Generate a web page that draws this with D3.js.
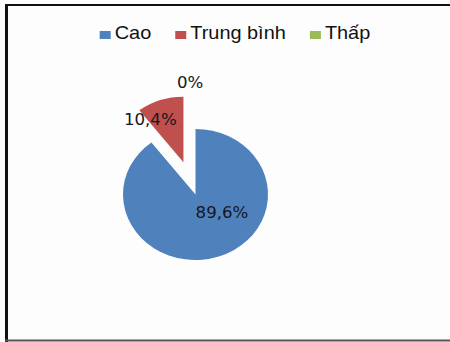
<!DOCTYPE html>
<html>
<head>
<meta charset="utf-8">
<script src="https://cdn.jsdelivr.net/npm/d3@7"></script>
<style>
  html, body { margin: 0; padding: 0; background: #fff; }
  svg { display: block; }
</style>
</head>
<body>
<svg id="chart" width="450" height="342"></svg>
<script>
// Share of ratings
const categories = ["Cao", "Trung bình", "Thấp"];
const values = [89.6, 10.4, 0];
const valueLabels = ["89,6%", "10,4%", "0%"];
const colors = ["#4F81BD", "#C0504D", "#9BBB59"];

const W = 450, H = 342;
const sx = 1.107;               // horizontal stretch of the whole chart
const cx = 195.5, cy = 194.5;   // pie centre
const radius = 65.5;
const explode = [0, 34, 34];    // slice pull-out distance
// label placement: [angle offset from slice middle (deg), distance from centre]
const labelPlace = [[-34, 30], [-10, 85], [-2.5, 112]];

const svg = d3.select("#chart");

// frame
svg.append("rect").attr("x", 0).attr("y", 0).attr("width", W).attr("height", H).attr("fill", "#fdfdfd");
svg.append("line").attr("x1", 6.5).attr("x2", 6.5).attr("y1", 4).attr("y2", 342)
  .attr("stroke", "#111").attr("stroke-width", 3);
svg.append("line").attr("x1", 5).attr("x2", 450).attr("y1", 5).attr("y2", 5)
  .attr("stroke", "#111").attr("stroke-width", 2);
svg.append("line").attr("x1", 5).attr("x2", 450).attr("y1", 340.5).attr("y2", 340.5)
  .attr("stroke", "#555").attr("stroke-width", 2);

const pie = d3.pie().sort(null).value(d => d)(values);
const arc = d3.arc().innerRadius(0).outerRadius(radius);

const pieG = svg.append("g")
  .attr("transform", `translate(${cx},${cy}) scale(${sx},1)`);

pieG.selectAll("path.slice")
  .data(pie)
  .join("path")
  .attr("class", "slice")
  .attr("fill", (d, i) => colors[i])
  .attr("transform", (d, i) => {
    const a = (d.startAngle + d.endAngle) / 2;
    return `translate(${Math.sin(a) * explode[i]},${-Math.cos(a) * explode[i]})`;
  })
  .attr("d", d => d.value > 0 ? arc(d) : null);

// value labels
svg.selectAll("text.val")
  .data(pie)
  .join("text")
  .attr("class", "val")
  .attr("transform", (d, i) => {
    const a = (d.startAngle + d.endAngle) / 2 + labelPlace[i][0] * Math.PI / 180;
    const r = labelPlace[i][1];
    const x = cx + Math.sin(a) * r * sx;
    const y = cy - Math.cos(a) * r;
    return `translate(${x},${y}) scale(${sx},1)`;
  })
  .attr("text-anchor", "middle")
  .attr("dy", "0.36em")
  .attr("font-family", "DejaVu Sans, Verdana, sans-serif")
  .attr("font-size", 15)
  .attr("fill", "#141820")
  .text((d, i) => valueLabels[i]);

// legend
const legendG = svg.append("g");
const items = legendG.selectAll("g.item")
  .data(categories)
  .join("g")
  .attr("class", "item");
items.append("rect")
  .attr("width", 11).attr("height", 8)
  .attr("y", 31)
  .attr("fill", (d, i) => colors[i]);
items.append("text")
  .attr("y", 39)
  .attr("font-family", "Liberation Sans, Arial, sans-serif")
  .attr("font-size", 18)
  .attr("fill", "#111")
  .text(d => d);

const markW = 11, gapIn = 4, gapOut = 24;
const widths = [];
items.select("text").each(function () { widths.push(this.getComputedTextLength() * sx); });
const total = d3.sum(widths) + categories.length * (markW + gapIn) + (categories.length - 1) * gapOut;
let x0 = 235 - total / 2;
items.each(function (d, i) {
  const g = d3.select(this);
  g.select("rect").attr("x", x0);
  g.select("text").attr("transform", `translate(${x0 + markW + gapIn},0) scale(${sx},1)`);
  x0 += markW + gapIn + widths[i] + gapOut;
});
</script>
</body>
</html>
